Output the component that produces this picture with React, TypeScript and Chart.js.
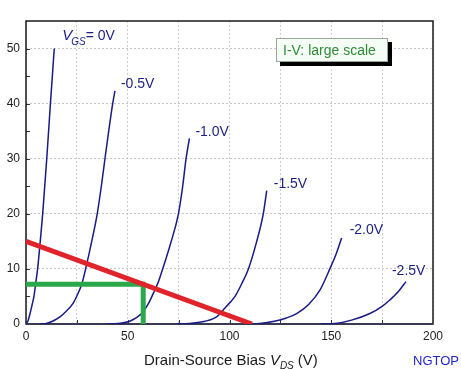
import React, { useEffect, useRef } from "react";
import { Chart, registerables } from "chart.js";

Chart.register(...registerables);

// ---- data (V_DS in volts, I_D) ----
const vgs0V: [number, number][] = [[0, 0], [1, 0.6], [2, 1.9], [3, 3.5], [3.9, 5], [4.8, 7.5], [5.7, 10], [7, 15], [8.2, 20], [10.2, 30], [12.0, 40], [13.9, 50]];
const vgsM05: [number, number][] = [[7, 0], [10, 0.1], [13, 0.5], [16.7, 1.3], [20, 2.4], [23.2, 3.8], [25.5, 5.5], [27.4, 7.2], [29.3, 10], [32.3, 15], [35, 20], [37.2, 25.5], [38.8, 30], [42.6, 40], [43.7, 42.3]];
const vgsM10: [number, number][] = [[40, 0], [45, 0.1], [51, 0.5], [56.8, 1.9], [60, 3.6], [62.6, 5.6], [65, 7.6], [67, 9.8], [71.2, 14.8], [74.8, 19.8], [77.0, 25], [78.6, 29.9], [80.3, 33.7]];
const vgsM15: [number, number][] = [[74, 0], [80, 0.1], [88, 0.5], [94, 1.4], [97, 2.6], [100, 3.8], [102.7, 5], [106, 7.3], [109.2, 9.9], [113, 14.5], [116.6, 20], [118.3, 24.2]];
const vgsM20: [number, number][] = [[108, 0], [115, 0.1], [122, 0.5], [128, 1.1], [133, 1.9], [139, 3.6], [144.5, 6.2], [149.4, 10.1], [152.5, 12.8], [155.1, 15.6]];
const vgsM25: [number, number][] = [[145, 0], [152, 0.1], [160, 0.7], [169, 1.9], [175, 3.2], [178.9, 4.4], [183, 5.9], [186.7, 7.7]];
const loadLine: [number, number][] = [[0, 15], [111, 0]];
const operatingPoint: [number, number][] = [[0, 7.2], [57.6, 7.2], [57.6, 0]];

const curveLabels = ["0V", "-0.5V", "-1.0V", "-1.5V", "-2.0V", "-2.5V"];
const xTickValues = [0, 50, 100, 150, 200];
const yTickValues = [0, 10, 20, 30, 40, 50];
const legendText = "I-V: large scale";
const axisTitle = "Drain-Source Bias ";
const watermark = "NGTOP";

// label offsets (pixels) relative to each curve's last point
const labelOffsets: [number, number][] = [[8, -9], [6, -3], [6, -2], [7, -3], [8, -4], [-14, -7]];

const FONT = "'Liberation Sans', Arial, sans-serif";
const NAVY = "#1c1f7e";

const toPts = (a: [number, number][]) => a.map(([x, y]) => ({ x, y }));

export default function App() {
  const ref = useRef<HTMLCanvasElement | null>(null);

  useEffect(() => {
    const canvas = ref.current;
    if (!canvas) return;
    const curves = [vgs0V, vgsM05, vgsM10, vgsM15, vgsM20, vgsM25];

    const deco = {
      id: "deco",
      beforeDatasetsDraw(chart: any) {
        const { ctx, chartArea: a, scales } = chart;
        const xs = scales.x, ys = scales.y;
        ctx.save();
        // inward ticks
        ctx.strokeStyle = "#333";
        ctx.lineWidth = 1;
        ctx.beginPath();
        for (let v = 25; v < 200; v += 25) {
          const px = Math.round(xs.getPixelForValue(v)) + 0.5;
          ctx.moveTo(px, a.bottom);
          ctx.lineTo(px, a.bottom - 4);
        }
        for (let v = 5; v < 55; v += 5) {
          const py = Math.round(ys.getPixelForValue(v)) + 0.5;
          ctx.moveTo(a.left, py);
          ctx.lineTo(a.left + 4, py);
        }
        ctx.stroke();
        // frame
        ctx.strokeStyle = "#1a1a1a";
        ctx.lineWidth = 1.5;
        ctx.strokeRect(a.left, a.top, a.right - a.left, a.bottom - a.top);
        ctx.strokeStyle = "#3a3a50";
        ctx.lineWidth = 2;
        ctx.beginPath();
        ctx.moveTo(a.left, a.bottom);
        ctx.lineTo(a.right, a.bottom);
        ctx.stroke();
        ctx.restore();
      },
      afterDraw(chart: any) {
        const { ctx, scales } = chart;
        const xs = scales.x, ys = scales.y;
        ctx.save();
        ctx.fillStyle = NAVY;
        ctx.textBaseline = "alphabetic";
        ctx.textAlign = "left";
        curves.forEach((c, i) => {
          const last = c[c.length - 1];
          const px = xs.getPixelForValue(last[0]) + labelOffsets[i][0];
          const py = ys.getPixelForValue(last[1]) + labelOffsets[i][1];
          if (i === 0) {
            ctx.font = `italic 15px ${FONT}`;
            ctx.fillText("V", px, py);
            let w = ctx.measureText("V").width;
            ctx.font = `italic 10px ${FONT}`;
            ctx.fillText("GS", px + w - 1, py + 5);
            w += ctx.measureText("GS").width - 1;
            ctx.font = `14px ${FONT}`;
            ctx.fillText("= " + curveLabels[i], px + w, py);
          } else {
            ctx.font = `14px ${FONT}`;
            ctx.fillText(curveLabels[i], px, py);
          }
        });

        // legend box with shadow
        const bx = 276, by = 38, bw = 112, bh = 24;
        ctx.fillStyle = "#000";
        ctx.fillRect(bx + 4, by + 4, bw, bh);
        ctx.fillStyle = "#f6fcf6";
        ctx.fillRect(bx, by, bw, bh);
        ctx.strokeStyle = "#9aa89a";
        ctx.lineWidth = 1;
        ctx.strokeRect(bx + 0.5, by + 0.5, bw - 1, bh - 1);
        ctx.fillStyle = "#2e8b36";
        ctx.font = `14px ${FONT}`;
        ctx.fillText(legendText, bx + 7, by + 17);

        // axis title with subscript
        ctx.fillStyle = "#1a1a1a";
        ctx.font = `15px ${FONT}`;
        let tx = 144;
        const ty = 365;
        ctx.fillText(axisTitle, tx, ty);
        tx += ctx.measureText(axisTitle).width;
        ctx.font = `italic 15px ${FONT}`;
        ctx.fillText("V", tx, ty);
        tx += ctx.measureText("V").width;
        ctx.font = `italic 10px ${FONT}`;
        ctx.fillText("DS", tx, ty + 4);
        tx += ctx.measureText("DS").width + 4;
        ctx.font = `15px ${FONT}`;
        ctx.fillText("(V)", tx, ty);

        ctx.fillStyle = "#2323c8";
        ctx.font = `13px ${FONT}`;
        ctx.fillText(watermark, 413, 365);
        ctx.restore();
      },
    };

    const chart = new Chart(canvas, {
      type: "line",
      data: {
        datasets: [
          { data: toPts(loadLine), borderColor: "#e0242c", borderWidth: 5, pointRadius: 0, tension: 0, borderCapStyle: "butt" },
          { data: toPts(operatingPoint), borderColor: "#2aa84a", borderWidth: 5, pointRadius: 0, tension: 0, borderJoinStyle: "miter" },
          ...curves.map((c) => ({
            data: toPts(c),
            borderColor: "#1a1a86",
            borderWidth: 1.5,
            pointRadius: 0,
            cubicInterpolationMode: "monotone" as const,
          })),
        ],
      },
      options: {
        animation: false,
        responsive: false,
        events: [],
        layout: { padding: { left: 0, right: 28, top: 21, bottom: 0 } },
        plugins: { legend: { display: false }, tooltip: { enabled: false }, title: { display: false } },
        scales: {
          x: {
            type: "linear",
            min: 0,
            max: 200,
            afterFit: (s: any) => { s.height = 45; },
            ticks: {
              stepSize: 25,
              padding: 5,
              color: "#222",
              font: { family: FONT, size: 12 },
              maxRotation: 0,
              autoSkip: false,
              callback: (v: any) => (xTickValues.includes(Number(v)) ? String(v) : ""),
            },
            grid: { color: "#cfcfcf", lineWidth: 1, drawTicks: false },
            border: { display: false, dash: [2, 2] },
          },
          y: {
            type: "linear",
            min: 0,
            max: 55,
            afterFit: (s: any) => { s.width = 26; },
            ticks: {
              stepSize: 10,
              padding: 6,
              color: "#222",
              font: { family: FONT, size: 12 },
              autoSkip: false,
              callback: (v: any) => (yTickValues.includes(Number(v)) ? String(v) : ""),
            },
            grid: { color: (c: any) => (c.tick && yTickValues.includes(c.tick.value) ? "#c8c8c8" : "rgba(0,0,0,0)"), lineWidth: 1, drawTicks: false },
            border: { display: false, dash: [2, 2] },
          },
        },
      },
      plugins: [deco],
    });
    return () => chart.destroy();
  }, []);

  return (
    <div style={{ position: "absolute", left: 0, top: 0, width: 461, height: 369, background: "#fff" }}>
      <canvas ref={ref} width={461} height={369} style={{ display: "block" }} />
    </div>
  );
}
